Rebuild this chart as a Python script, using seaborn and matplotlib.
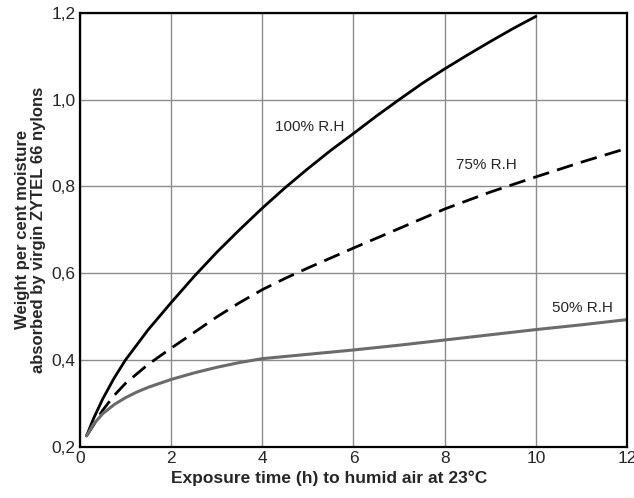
import matplotlib
matplotlib.use("Agg")
import matplotlib.pyplot as plt
import seaborn as sns

sns.set_style("white")
plt.rcParams["font.family"] = ["Liberation Sans", "DejaVu Sans"]

# --- data ---
x_100 = [0.146, 0.3, 0.5, 0.75, 1, 1.5, 2, 2.5, 3, 3.5, 4, 4.5, 5, 5.5, 6, 6.5,
         7, 7.5, 8, 8.5, 9, 9.5, 10]
y_100 = [0.225, 0.265, 0.31, 0.358, 0.40, 0.47, 0.532, 0.592, 0.648, 0.70, 0.75,
         0.797, 0.841, 0.883, 0.922, 0.962, 1.0, 1.037, 1.071, 1.103, 1.134, 1.164, 1.192]

x_75 = [0.146, 0.3, 0.5, 0.75, 1, 1.5, 2, 2.5, 3, 3.5, 4, 4.5, 5, 6, 7, 8, 9, 10, 11, 12]
y_75 = [0.225, 0.25, 0.284, 0.318, 0.346, 0.39, 0.427, 0.463, 0.499, 0.532, 0.562,
        0.588, 0.612, 0.658, 0.703, 0.748, 0.787, 0.822, 0.856, 0.888]

x_50 = [0.146, 0.3, 0.5, 0.75, 1, 1.25, 1.5, 2, 2.5, 3, 3.5, 4, 5, 6, 7, 8, 9, 10, 11, 12]
y_50 = [0.225, 0.252, 0.276, 0.297, 0.313, 0.326, 0.337, 0.355, 0.370, 0.383, 0.394,
        0.403, 0.413, 0.423, 0.434, 0.446, 0.458, 0.470, 0.481, 0.493]

x_ticks = [0, 2, 4, 6, 8, 10, 12]
y_ticks = [0.2, 0.4, 0.6, 0.8, 1.0, 1.2]
y_tick_labels = ["0,2", "0,4", "0,6", "0,8", "1,0", "1,2"]

fig = plt.figure(figsize=(6.34, 4.98), dpi=100)
ax = fig.add_axes([0.126, 0.103, 0.863, 0.871])

sns.lineplot(x=x_100, y=y_100, ax=ax, color="black", linewidth=2, sort=False)
sns.lineplot(x=x_75, y=y_75, ax=ax, color="black", linewidth=2, sort=False,
             linestyle=(0, (6, 3)))
sns.lineplot(x=x_50, y=y_50, ax=ax, color="#6b6b6b", linewidth=2.2, sort=False)

ax.text(5.81, 0.937, "100% R.H", ha="right", va="center", fontsize=11)
ax.text(9.58, 0.849, "75% R.H", ha="right", va="center", fontsize=11)
ax.text(11.69, 0.519, "50% R.H", ha="right", va="center", fontsize=11)

ax.set_xlim(0, 12)
ax.set_ylim(0.2, 1.2)
ax.set_xticks(x_ticks)
ax.set_xticklabels([str(t) for t in x_ticks])
ax.set_yticks(y_ticks)
ax.set_yticklabels(y_tick_labels)
ax.tick_params(axis="both", length=0, labelsize=12.5, pad=3)
ax.grid(True, color="#8c8c8c", linewidth=1)
for s in ax.spines.values():
    s.set_color("black")
    s.set_linewidth(1.6)

ax.set_xlabel("Exposure time (h) to humid air at 23°C", fontsize=12.5,
              fontweight="bold", labelpad=3)
ax.xaxis.set_label_coords(0.455, -0.055)
ax.set_ylabel("Weight per cent moisture\nabsorbed by virgin ZYTEL 66 nylons",
              fontsize=12, fontweight="bold", labelpad=4, linespacing=1.05)

fig.savefig("out.png", dpi=100)
